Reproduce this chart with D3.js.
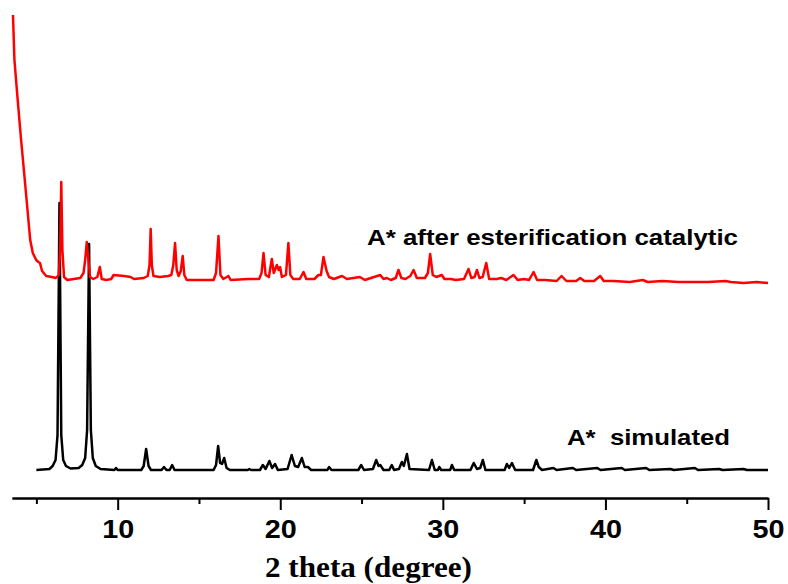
<!DOCTYPE html>
<html lang="en">
  <head>
    <meta charset="UTF-8">
    <title>XRD patterns</title>
    <style>
      html, body {
        margin: 0;
        padding: 0;
        background: #fff;
      }

      .trace {
        fill: none;
        stroke-width: 2.5px;
        stroke-linejoin: round;
      }

      .axis path, .axis line {
        stroke: #000;
        stroke-width: 2px;
      }

      .axis text {
        font: bold 26px "Liberation Sans", Arial, sans-serif;
        fill: #000;
      }

      .label {
        font: bold 22px "Liberation Sans", Arial, sans-serif;
        fill: #000;
        white-space: pre;
      }

      .title {
        font: bold 30px "Liberation Serif", "Times New Roman", serif;
        fill: #000;
      }
    </style>
  </head>
  <body>
    <svg width="788" height="584"></svg>
    <script src="https://cdn.jsdelivr.net/npm/d3@7"></script>
    <script>

      // 2θ / intensity (a.u.) vertices
      const simulated = [
        [5.0, 0], [5.8, 1], [6.0, 4], [6.18, 10], [6.3, 35], [6.42, 267], [6.53, 35], [6.65, 10], [6.82, 4],
        [7.1, 1.5], [7.6, 2], [7.82, 5], [8.0, 12], [8.12, 40], [8.24, 226], [8.35, 40], [8.47, 12], [8.65, 4],
        [8.95, 1], [9.8, 0], [9.9, 2], [10.0, 0], [11.45, 0], [11.6, 4], [11.75, 21], [11.9, 4], [12.05, 0],
        [12.7, 0], [12.85, 3], [13.0, 0], [13.2, 0], [13.35, 5], [13.5, 0], [15.9, 0], [16.05, 5], [16.18, 24],
        [16.3, 7], [16.42, 6], [16.55, 12], [16.7, 2], [16.9, 0], [18.0, 0], [18.1, 1], [18.2, 0], [18.75, 0],
        [18.93, 5], [19.1, 1], [19.33, 9], [19.5, 2], [19.68, 6], [19.85, 0], [20.45, 1], [20.7, 15], [20.9, 4],
        [21.1, 3], [21.33, 12], [21.5, 3], [21.7, 3], [21.9, 0], [22.9, 0], [23.0, 3], [23.15, 0], [24.8, 0],
        [24.98, 5], [25.15, 0], [25.7, 1], [25.9, 10], [26.05, 4], [26.15, 5], [26.35, 0], [26.7, 0], [26.86, 5],
        [27.0, 0], [27.3, 1], [27.48, 8], [27.6, 4], [27.79, 16], [27.95, 1], [29.15, 0], [29.33, 10], [29.5, 0],
        [29.7, 0], [29.78, 3], [29.9, 0], [30.45, 0], [30.56, 5], [30.7, 0], [31.7, 0], [31.9, 7], [32.1, 1],
        [32.3, 2], [32.46, 10], [32.62, 0], [33.8, 0], [33.94, 6], [34.08, 2], [34.25, 7], [34.45, 0], [35.55, 0],
        [35.75, 10], [35.9, 3], [36.1, 0], [36.8, 2], [37.0, 0], [38.0, 2], [38.2, 0], [39.5, 2], [39.7, 0],
        [41.0, 2], [41.2, 0], [42.5, 2], [42.7, 0], [44.0, 1], [44.2, 0], [45.5, 2], [45.7, 0], [47.0, 1],
        [47.2, 0], [48.5, 1], [48.7, 0], [50.0, 0]
      ]

      const afterCatalysis = [
        [3.56, 270], [3.65, 225], [3.85, 185], [4.06, 145], [4.27, 108], [4.47, 72], [4.62, 45], [4.78, 32],
        [4.99, 25], [5.12, 23], [5.22, 22], [5.35, 14], [5.6, 9], [5.95, 8], [6.2, 7], [6.38, 10], [6.46, 35],
        [6.53, 103], [6.6, 35], [6.7, 8], [6.9, 5], [7.3, 6], [7.7, 7], [7.9, 12], [8.0, 25], [8.1, 43], [8.2, 25],
        [8.3, 8], [8.5, 6], [8.75, 8], [8.9, 18], [9.02, 6], [9.3, 5], [9.6, 6], [9.75, 10], [10.4, 9], [10.8, 8],
        [11.0, 6], [11.6, 7], [11.85, 9], [11.96, 20], [12.03, 56], [12.1, 20], [12.2, 9], [12.6, 8], [13.1, 9],
        [13.3, 10], [13.42, 20], [13.53, 42], [13.63, 15], [13.75, 9], [13.88, 14], [14.0, 29], [14.1, 10],
        [14.25, 5], [15.0, 5], [15.9, 5], [16.05, 12], [16.2, 49], [16.32, 10], [16.5, 6], [16.81, 9], [16.95, 5],
        [18.0, 6], [18.7, 6], [18.85, 12], [18.97, 32], [19.1, 10], [19.3, 8], [19.48, 26], [19.6, 12], [19.79, 20],
        [19.9, 15], [19.99, 18], [20.1, 8], [20.35, 10], [20.5, 42], [20.62, 10], [20.8, 6], [21.2, 6], [21.43, 13],
        [21.6, 6], [22.1, 6], [22.35, 10], [22.5, 10], [22.66, 28], [22.85, 14], [23.0, 8], [23.3, 6], [23.8, 9],
        [24.1, 6], [24.9, 8], [25.2, 5], [26.15, 10], [26.35, 6], [26.55, 7], [26.8, 5], [27.1, 7], [27.27, 15],
        [27.45, 7], [27.7, 6], [28.0, 9], [28.2, 15], [28.4, 7], [28.9, 7], [29.08, 12], [29.22, 31], [29.38, 10],
        [29.6, 8], [29.94, 10], [30.1, 6], [30.5, 6], [30.8, 5], [31.3, 6], [31.58, 16], [31.75, 7], [31.95, 8],
        [32.1, 15], [32.25, 7], [32.45, 8], [32.67, 22], [32.85, 6], [33.3, 6], [33.6, 7], [33.9, 5], [34.35, 10],
        [34.6, 5], [35.0, 6], [35.3, 5], [35.58, 13], [35.8, 5], [36.3, 5], [37.0, 4], [37.3, 9], [37.6, 4],
        [38.2, 4], [38.45, 7], [38.7, 4], [39.3, 4], [39.68, 9], [39.9, 4], [40.5, 4], [41.5, 3], [42.3, 5],
        [42.6, 3], [43.5, 4], [44.5, 3], [45.5, 3], [46.3, 3], [47.4, 4], [47.7, 3], [48.5, 2], [49.3, 3], [50.0, 2]
      ]

      const majorTicks = [10, 20, 30, 40, 50]
      const minorTicks = [5, 15, 25, 35, 45]
      const seriesNames = ['A*  simulated', 'A* after esterification catalytic']
      const offsets = [0, 185] // vertical stacking of the two patterns

      const svg = d3.select('svg')

      const x = d3.scaleLinear().domain([3.5, 50]).range([12, 768])
      const y = d3.scaleLinear().domain([0, 460]).range([470, 10])

      // 把两条衍射曲线画出来
      const line = offset => d3.line()
        .x(d => x(d[0]))
        .y(d => y(d[1] + offset))

      svg.append('path')
        .attr('class', 'trace')
        .attr('stroke', '#000')
        .attr('d', line(offsets[0])(simulated))

      svg.append('path')
        .attr('class', 'trace')
        .attr('stroke', '#f00')
        .attr('d', line(offsets[1])(afterCatalysis))

      // x axis
      const axisY = 498

      svg.append('g')
        .attr('class', 'axis')
        .attr('transform', 'translate(0,' + axisY + ')')
        .call(d3.axisBottom(x).tickValues(minorTicks).tickSize(6).tickSizeOuter(0).tickFormat(''))

      const ax = svg.append('g')
        .attr('class', 'axis')
        .attr('transform', 'translate(0,' + axisY + ')')
        .call(d3.axisBottom(x).tickValues(majorTicks).tickSize(12).tickSizeOuter(0).tickPadding(10))

      ax.selectAll('text')
        .attr('textLength', 32)
        .attr('lengthAdjust', 'spacingAndGlyphs')

      // series labels
      svg.append('text')
        .attr('class', 'label')
        .attr('x', 367).attr('y', 245)
        .attr('textLength', 371)
        .attr('lengthAdjust', 'spacingAndGlyphs')
        .text(seriesNames[1])

      svg.append('text')
        .attr('class', 'label')
        .attr('x', 567).attr('y', 445)
        .attr('textLength', 163)
        .attr('lengthAdjust', 'spacingAndGlyphs')
        .text(seriesNames[0])

      svg.append('text')
        .attr('class', 'title')
        .attr('x', 265).attr('y', 577)
        .attr('textLength', 207)
        .attr('lengthAdjust', 'spacingAndGlyphs')
        .text('2 theta (degree)')

    </script>
  </body>
</html>
